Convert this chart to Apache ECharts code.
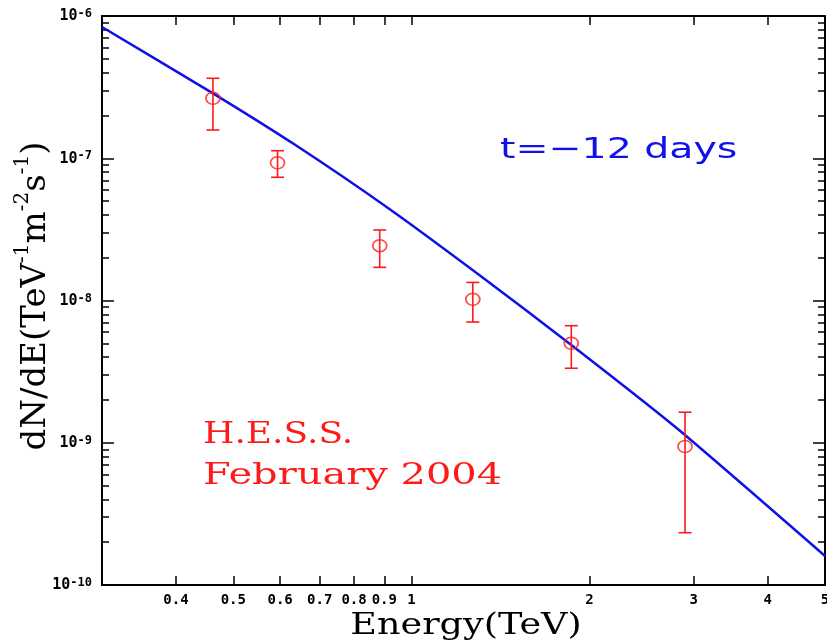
<!DOCTYPE html>
<html>
<head>
<meta charset="utf-8">
<script src="https://cdn.jsdelivr.net/npm/echarts@6/dist/echarts.min.js"></script>
<style>html,body{margin:0;padding:0;background:#fff}#c{width:827px;height:642px}</style>
</head>
<body>
<div id="c"></div>
<script>
// Data points (H.E.S.S. February 2004)
const energy   = [0.462, 0.594, 0.884, 1.27, 1.863, 2.90];
const flux     = [2.64e-7, 9.30e-8, 2.43e-8, 1.02e-8, 5.0e-9, 9.4e-10];
const fluxHigh = [3.65e-7, 1.13e-7, 3.13e-8, 1.34e-8, 6.65e-9, 1.64e-9];
const fluxLow  = [1.58e-7, 7.35e-8, 1.71e-8, 7.06e-9, 3.34e-9, 2.33e-10];
// Model curve (t = -12 days)
const modelEnergy = [0.30, 0.462, 0.634, 0.923, 1.309, 1.863, 2.81, 5.0];
const modelFlux   = [8.37e-7, 2.86e-7, 1.253e-7, 4.33e-8, 1.487e-8, 4.87e-9, 1.264e-9, 1.60e-10];
// Axes
const xTicks = [0.4, 0.5, 0.6, 0.7, 0.8, 0.9, 1, 2, 3, 4, 5];
const xRange = [0.3, 5];
const yDecades = [-10, -9, -8, -7, -6];
const xTitle = 'Energy(TeV)';
const annotations = ['t=\u221212 days', 'H.E.S.S.', 'February 2004'];

const L = Math.log10;
const xTickLog = xTicks.map(L);
const yMinor = [];
for (let n = yDecades[0]; n < yDecades[yDecades.length - 1]; n++) {
  for (let k = 2; k <= 9; k++) yMinor.push(n + L(k));
}

const chart = echarts.init(document.getElementById('c'), null, {renderer: 'canvas'});
const axisCol = '#000';
const baseX = {
  type: 'value', min: L(xRange[0]), max: L(xRange[1]),
  splitLine: {show: false},
  axisLine: {show: true, onZero: false, lineStyle: {color: axisCol, width: 2}},
  axisTick: {show: true, inside: true, length: 9, lineStyle: {color: axisCol, width: 1.5}, customValues: xTickLog},
};
const baseY = {
  type: 'value', min: yDecades[0], max: yDecades[yDecades.length - 1],
  splitLine: {show: false},
};
const option = {
  animation: false,
  backgroundColor: '#fff',
  grid: {left: 102, right: 2, top: 16, bottom: 57, containLabel: false, outerBoundsMode: 'none'},
  xAxis: [
    Object.assign({}, baseX, {
      position: 'bottom',
      axisLabel: {
        show: true, margin: 8, customValues: xTickLog,
        color: '#000', fontFamily: 'DejaVu Sans Mono', fontWeight: 'bold', fontSize: 14,
        formatter: v => String(Number(Math.pow(10, v).toFixed(1)))
      }
    }),
    Object.assign({}, baseX, {position: 'top', axisLabel: {show: false}})
  ],
  yAxis: [
    Object.assign({}, baseY, {
      position: 'left',
      axisLine: {show: true, onZero: false, lineStyle: {color: axisCol, width: 2}},
      axisTick: {show: true, inside: true, length: 12, lineStyle: {color: axisCol, width: 1.5}, customValues: yDecades},
      axisLabel: {
        show: true, margin: 10, customValues: yDecades,
        formatter: v => '{a|10}{b|' + Math.round(v) + '}',
        rich: {
          a: {fontFamily: 'DejaVu Sans Mono', fontWeight: 'bold', fontSize: 15, color: '#000', lineHeight: 16, verticalAlign: 'bottom'},
          b: {fontFamily: 'DejaVu Sans Mono', fontWeight: 'bold', fontSize: 12, color: '#000', verticalAlign: 'top', lineHeight: 16}
        }
      }
    }),
    Object.assign({}, baseY, {
      position: 'left',
      axisLine: {show: false, onZero: false},
      axisTick: {show: true, inside: true, length: 7, lineStyle: {color: axisCol, width: 1.5}, customValues: yMinor},
      axisLabel: {show: false}
    }),
    Object.assign({}, baseY, {
      position: 'right',
      axisLine: {show: true, onZero: false, lineStyle: {color: axisCol, width: 2}},
      axisTick: {show: true, inside: true, length: 12, lineStyle: {color: axisCol, width: 1.5}, customValues: yDecades},
      axisLabel: {show: false}
    }),
    Object.assign({}, baseY, {
      position: 'right',
      axisLine: {show: false, onZero: false},
      axisTick: {show: true, inside: true, length: 7, lineStyle: {color: axisCol, width: 1.5}, customValues: yMinor},
      axisLabel: {show: false}
    })
  ],
  series: [
    {
      type: 'line', xAxisIndex: 0, yAxisIndex: 0,
      data: modelEnergy.map((e, i) => [L(e), L(modelFlux[i])]),
      showSymbol: false, smooth: 0.2,
      lineStyle: {color: '#1010e8', width: 2.5},
      clip: true, z: 3
    },
    {
      type: 'custom', xAxisIndex: 0, yAxisIndex: 0,
      data: energy.map((e, i) => [L(e), L(fluxLow[i]), L(fluxHigh[i])]),
      renderItem: function (params, api) {
        const lo = api.coord([api.value(0), api.value(1)]);
        const hi = api.coord([api.value(0), api.value(2)]);
        const hw = 6.5;
        const st = {stroke: '#ff1a1a', lineWidth: 1.6, fill: null};
        return {
          type: 'group',
          children: [
            {type: 'line', shape: {x1: lo[0], y1: lo[1], x2: hi[0], y2: hi[1]}, style: st},
            {type: 'line', shape: {x1: lo[0] - hw, y1: lo[1], x2: lo[0] + hw, y2: lo[1]}, style: st},
            {type: 'line', shape: {x1: hi[0] - hw, y1: hi[1], x2: hi[0] + hw, y2: hi[1]}, style: st}
          ]
        };
      },
      z: 4
    },
    {
      type: 'scatter', xAxisIndex: 0, yAxisIndex: 0,
      data: energy.map((e, i) => [L(e), L(flux[i])]),
      symbol: 'circle', symbolSize: [14, 12],
      itemStyle: {color: 'rgba(0,0,0,0)', borderColor: '#ff1a1a', borderWidth: 1.6},
      z: 5
    }
  ],
  graphic: [
    {
      type: 'text', x: 33, y: 296, rotation: Math.PI / 2,
      style: {
        text: '{m|dN/dE(TeV}{s|-1}{m|m}{s|-2}{m|s}{s|-1}{m|)}',
        align: 'center', verticalAlign: 'middle',
        rich: {
          m: {fontFamily: 'DejaVu Serif', fontSize: 34, fill: '#000', lineHeight: 40, verticalAlign: 'bottom'},
          s: {fontFamily: 'DejaVu Serif', fontSize: 20, fill: '#000', lineHeight: 40, verticalAlign: 'top'}
        }
      }
    },
    {
      type: 'text', x: 466, y: 626, scaleX: 1.26,
      style: {text: xTitle, fontFamily: 'DejaVu Serif', fontSize: 29, fill: '#000', align: 'center', verticalAlign: 'middle'}
    },
    {
      type: 'text', x: 500, y: 150, scaleX: 1.36,
      style: {text: annotations[0], fontFamily: 'DejaVu Sans', fontSize: 29, fill: '#1010e8', align: 'left', verticalAlign: 'middle'}
    },
    {
      type: 'text', x: 203, y: 435, scaleX: 1.2,
      style: {text: annotations[1], fontFamily: 'DejaVu Serif', fontSize: 30, fill: '#ff1a1a', align: 'left', verticalAlign: 'middle'}
    },
    {
      type: 'text', x: 203, y: 476, scaleX: 1.33,
      style: {text: annotations[2], fontFamily: 'DejaVu Serif', fontSize: 30, fill: '#ff1a1a', align: 'left', verticalAlign: 'middle'}
    }
  ]
};
chart.setOption(option);
</script>
</body>
</html>
